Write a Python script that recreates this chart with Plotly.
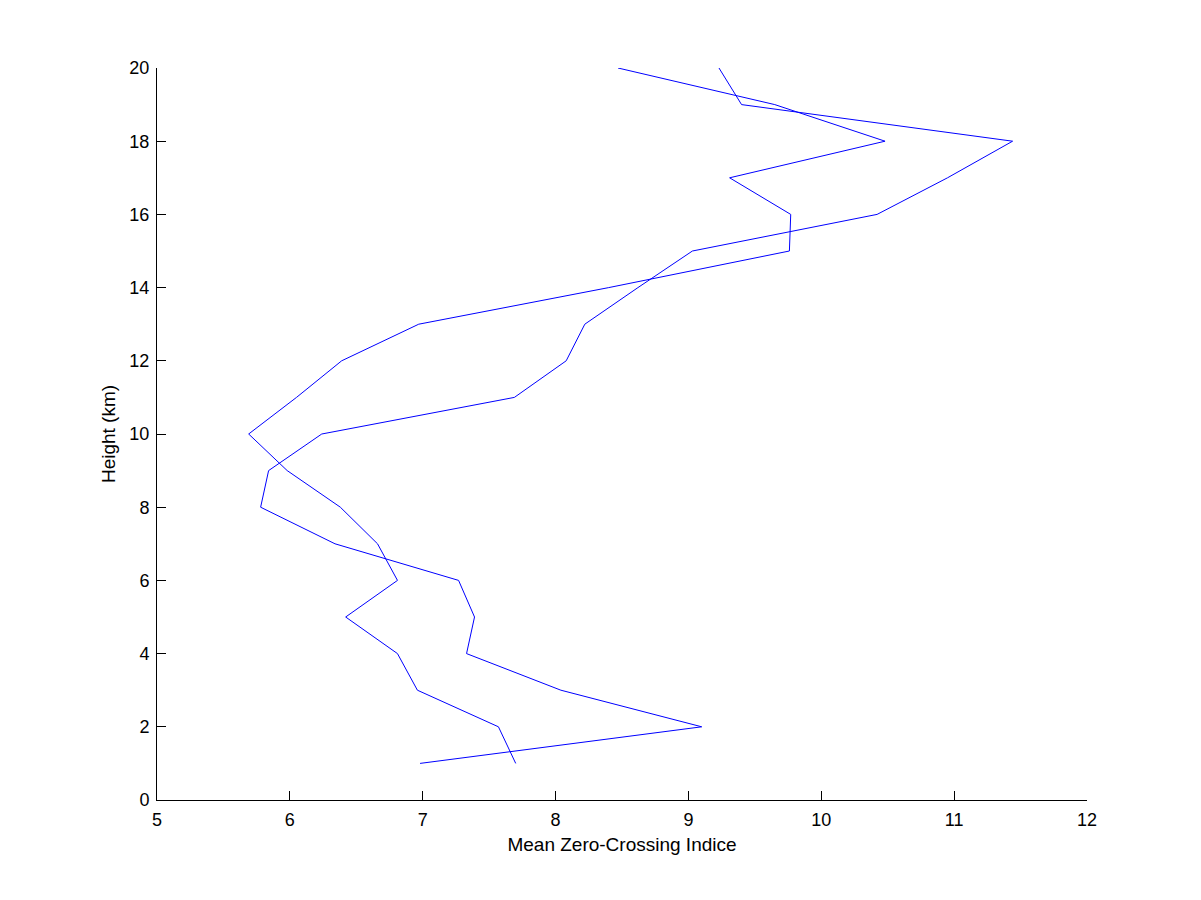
import plotly.graph_objects as go

heights = list(range(1, 21))
series_a = [6.98, 9.10, 8.04, 7.33, 7.39, 7.27, 6.34, 5.78, 5.84, 6.24,
            7.69, 8.08, 8.22, 8.62, 9.03, 10.42, 10.95, 11.44, 9.40, 9.23]
series_b = [7.70, 7.57, 6.96, 6.81, 6.42, 6.81, 6.66, 6.38, 5.98, 5.69,
            6.05, 6.39, 6.97, 8.40, 9.76, 9.77, 9.31, 10.48, 9.65, 8.47]

x_ticks = [5, 6, 7, 8, 9, 10, 11, 12]
y_ticks = [0, 2, 4, 6, 8, 10, 12, 14, 16, 18, 20]

fig = go.Figure()
for s in (series_a, series_b):
    fig.add_trace(go.Scatter(x=s, y=heights, mode="lines",
                             line=dict(color="#0000ff", width=1),
                             showlegend=False, hoverinfo="skip"))

font = dict(family="Liberation Sans, Arial, Helvetica, sans-serif", size=18, color="black")
tfont = dict(family="Liberation Sans, Arial, Helvetica, sans-serif", size=19, color="black")
fig.update_layout(
    width=1201, height=900,
    margin=dict(l=149, r=122, t=60, b=108),
    paper_bgcolor="white", plot_bgcolor="white",
    font=font,
    xaxis=dict(range=[5, 12], tickvals=x_ticks, ticks="inside", ticklen=9,
               tickcolor="black", showline=True, linecolor="black", linewidth=1,
               showgrid=False, zeroline=False, mirror=False, ticklabelstandoff=3,
               tickfont=font,
               title=dict(text="Mean Zero-Crossing Indice", standoff=9, font=tfont)),
    yaxis=dict(range=[0, 20], tickvals=y_ticks, ticks="inside", ticklen=9,
               tickcolor="black", showline=True, linecolor="black", linewidth=1,
               showgrid=False, zeroline=False, mirror=False, ticklabelstandoff=3,
               tickfont=font,
               title=dict(text="Height (km)", standoff=8, font=tfont)),
)
fig.write_html("out.html")
